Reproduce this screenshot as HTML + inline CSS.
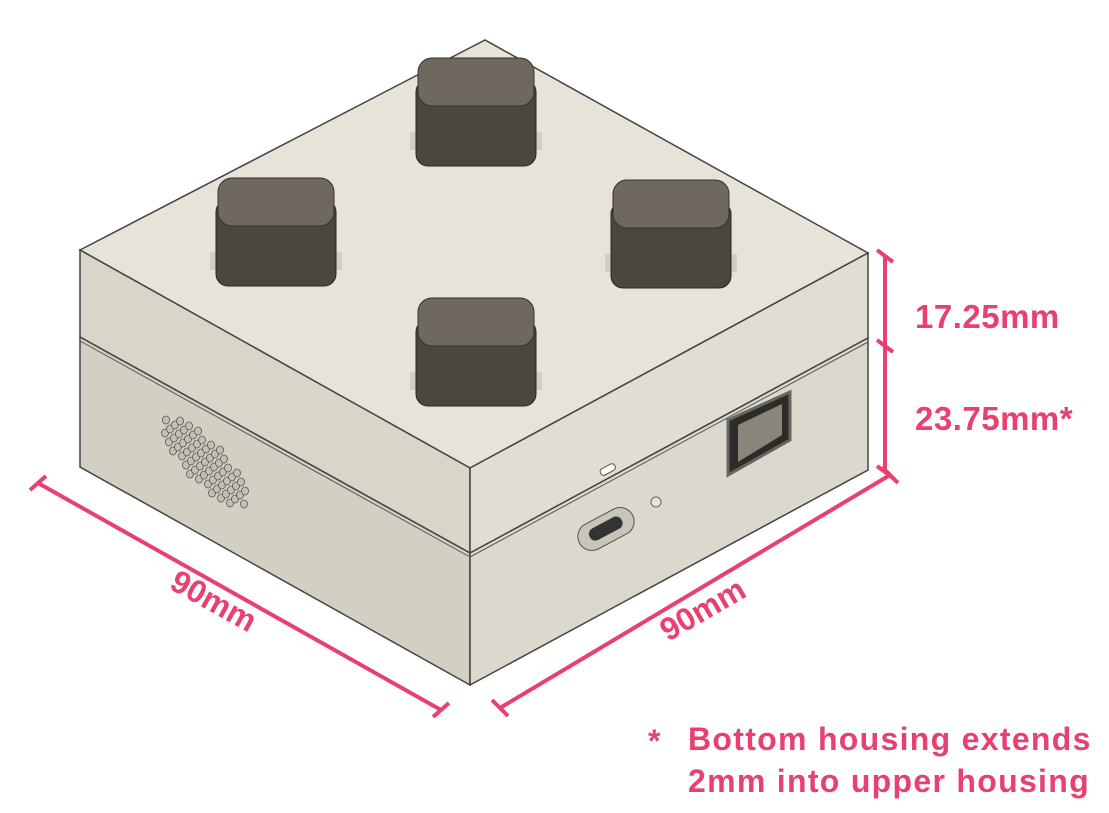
<!DOCTYPE html>
<html><head><meta charset="utf-8"><style>
html,body{margin:0;padding:0;background:#fff;}
svg{display:block;}
text{font-family:"Liberation Sans",sans-serif;font-weight:bold;fill:#e8406f;}
</style></head><body>
<svg width="1109" height="813" viewBox="0 0 1109 813">
<g>
<polygon points="80,250 485,40 868,253 470,468" fill="#e8e3d9" stroke="#444" stroke-width="1.5"/>
<polygon points="80,250 470,468 470,553 80,337" fill="#dad5c9" stroke="#444" stroke-width="1.5"/>
<polygon points="470,468 868,253 868,338 470,553" fill="#e1ddd3" stroke="#444" stroke-width="1.5"/>
<polygon points="80,337 470,553 470,685 80,467" fill="#d4cfc3" stroke="#444" stroke-width="1.5"/>
<polygon points="470,553 868,338 868,470 470,685" fill="#dcd8cd" stroke="#444" stroke-width="1.5"/>
<line x1="80" y1="341" x2="470" y2="557" stroke="#555" stroke-width="1"/>
<line x1="470" y1="557" x2="868" y2="342" stroke="#555" stroke-width="1"/>
</g>
<g id="buttons"></g>
<g id="grille"></g>
<g>
<rect x="576" y="515" width="60" height="28" rx="14" fill="#c9c4b8" stroke="#555" transform="rotate(-28 606 529)"/>
<rect x="588" y="522" width="36" height="13" rx="6" fill="#333" transform="rotate(-28 606 529)"/>
<circle cx="656" cy="502" r="5" fill="#e8e4dc" stroke="#666"/>
<rect x="600" y="466" width="16" height="7" rx="3" fill="#fff" stroke="#555" transform="rotate(-28 608 470)"/>
<polygon points="728,420 790,392 790,440 728,475" fill="#2e2c28" stroke="#666" stroke-width="3"/>
<polygon points="738,425 782,404 782,435 738,462" fill="#8a857b"/>
</g>
<g stroke="#e8406f" stroke-width="4" fill="none">
<line x1="38" y1="483" x2="441" y2="710"/>
<line x1="30" y1="490" x2="46" y2="476"/>
<line x1="433" y1="717" x2="449" y2="703"/>
<line x1="500" y1="708" x2="890" y2="475"/>
<line x1="492" y1="700" x2="508" y2="716"/>
<line x1="882" y1="467" x2="898" y2="483"/>
<line x1="885" y1="255" x2="885" y2="472"/>
<line x1="877" y1="250" x2="893" y2="262"/>
<line x1="877" y1="340" x2="893" y2="352"/>
<line x1="877" y1="466" x2="893" y2="478"/>
</g>
<text x="915" y="328" font-size="33" letter-spacing="0.5">17.25mm</text>
<text x="915" y="430" font-size="33" letter-spacing="0.5">23.75mm*</text>
<text x="0" y="0" font-size="32" transform="translate(168,588) rotate(29)">90mm</text>
<text x="0" y="0" font-size="32" transform="translate(668,642) rotate(-30)">90mm</text>
<text x="648" y="752" font-size="32">*</text>
<text x="688" y="750" font-size="32" letter-spacing="1.3">Bottom housing extends</text>
<text x="688" y="792" font-size="32" letter-spacing="1.3">2mm into upper housing</text>
</svg>
<script>
var ns="http://www.w3.org/2000/svg";
var btnCenters=[[476,110],[276,230],[671,232],[476,350]];
var bg=document.getElementById('buttons');
btnCenters.forEach(function(c){
 var x=c[0],y=c[1];
 var well=document.createElementNS(ns,'polygon');
 well.setAttribute('points',(x-66)+','+(y+22)+' '+(x+66)+','+(y+22)+' '+(x+66)+','+(y+40)+' '+(x-66)+','+(y+40));
 well.setAttribute('fill','#d3cec3');
 bg.appendChild(well);
 var body=document.createElementNS(ns,'rect');
 
 
 body.setAttribute('x',x-60);body.setAttribute('y',y-30);
 body.setAttribute('width',120);body.setAttribute('height',86);body.setAttribute('rx',12);
 body.setAttribute('fill','#4a4741');body.setAttribute('stroke','#2a2825');
 bg.appendChild(body);
 var top=document.createElementNS(ns,'rect');
 
 
 top.setAttribute('x',x-58);top.setAttribute('y',y-52);
 top.setAttribute('width',116);top.setAttribute('height',48);top.setAttribute('rx',14);
 top.setAttribute('fill','#6e685e');top.setAttribute('stroke','#333');
 bg.appendChild(top);
});
var gg=document.getElementById('grille');
for(var i=-4;i<=4;i++){for(var j=-4;j<=4;j++){
 if(i*i+j*j>18)continue;
 var cx=205+i*9+j*4, cy=462+j*9+i*5;
 var d=document.createElementNS(ns,'ellipse');
 d.setAttribute('cx',cx);d.setAttribute('cy',cy);d.setAttribute('rx',3.5);d.setAttribute('ry',4);
 d.setAttribute('fill','#c4bfb3');d.setAttribute('stroke','#555');d.setAttribute('stroke-width','0.8');
 gg.appendChild(d);
}}
</script>
</body></html>
